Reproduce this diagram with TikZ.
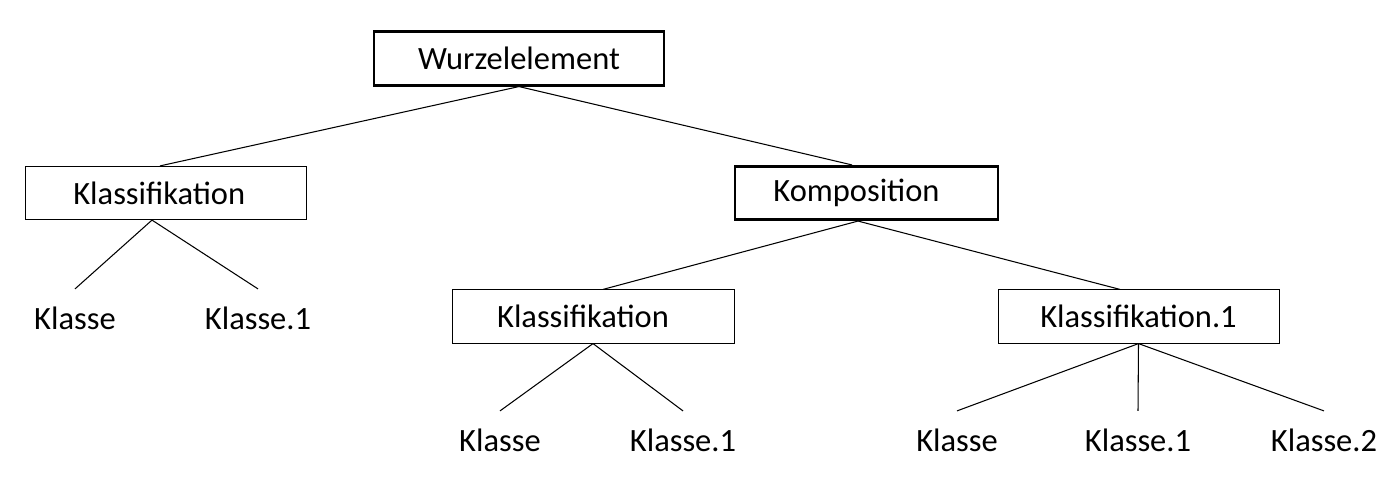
\documentclass[tikz,border=0pt]{standalone}
\usepackage{fontspec}
\setmainfont{Carlito}
\begin{document}
\begin{tikzpicture}[x=0.02cm,y=-0.02cm,
  box/.style={draw, minimum width=5.62cm, minimum height=1.07cm, inner sep=0pt, font=\fontsize{18.5}{22}\selectfont},
  bbox/.style={box, line width=1.5pt},
  leaf/.style={inner sep=0pt, minimum height=1.15cm, font=\fontsize{18.5}{22}\selectfont},
  edge/.style={draw, line width=0.6pt}]
\useasboundingbox (0,0) rectangle (1387,490);

% Kästen
\node[bbox, minimum width=5.8cm] (root) at (519,58.5) {Wurzelelement};
\node[box] (kl) at (165.5,193) {\hspace*{-0.25cm}Klassifikation};
\node[bbox, minimum width=5.26cm] (komp) at (866.5,193) {\hspace*{-0.4cm}Komposition};
\node[box, minimum width=5.64cm] (km) at (593,316.5) {\hspace*{-0.4cm}Klassifikation};
\node[box, minimum width=5.62cm] (kr) at (1138.5,316.5) {Klassifikation.1};

% Blätter
\node[leaf] (a1) at (75,318) {Klasse};
\node[leaf] (a2) at (258,318) {Klasse.1};
\node[leaf] (b1) at (500,440) {Klasse};
\node[leaf] (b2) at (683,440) {Klasse.1};
\node[leaf] (c1) at (957,440) {Klasse};
\node[leaf] (c2) at (1138,440) {Klasse.1};
\node[leaf] (c3) at (1324,440) {Klasse.2};

% Verbindungen
\draw[edge] (root.south) -- ([xshift=-0.11cm]kl.north);
\draw[edge] (root.south) -- ([xshift=-0.29cm]komp.north);
\draw[edge] ([xshift=-0.27cm]kl.south) -- (a1.north);
\draw[edge] ([xshift=-0.27cm]kl.south) -- (a2.north);
\draw[edge] ([xshift=-0.17cm]komp.south) -- ([xshift=0.2cm]km.north);
\draw[edge] ([xshift=-0.17cm]komp.south) -- ([xshift=-0.37cm]kr.north);
\draw[edge] (km.south) -- (b1.north);
\draw[edge] (km.south) -- (b2.north);
\draw[edge] (kr.south) -- (c1.north);
\draw[edge] (kr.south) -- (c2.north);
\draw[edge] (kr.south) -- (c3.north);
\end{tikzpicture}
\end{document}
